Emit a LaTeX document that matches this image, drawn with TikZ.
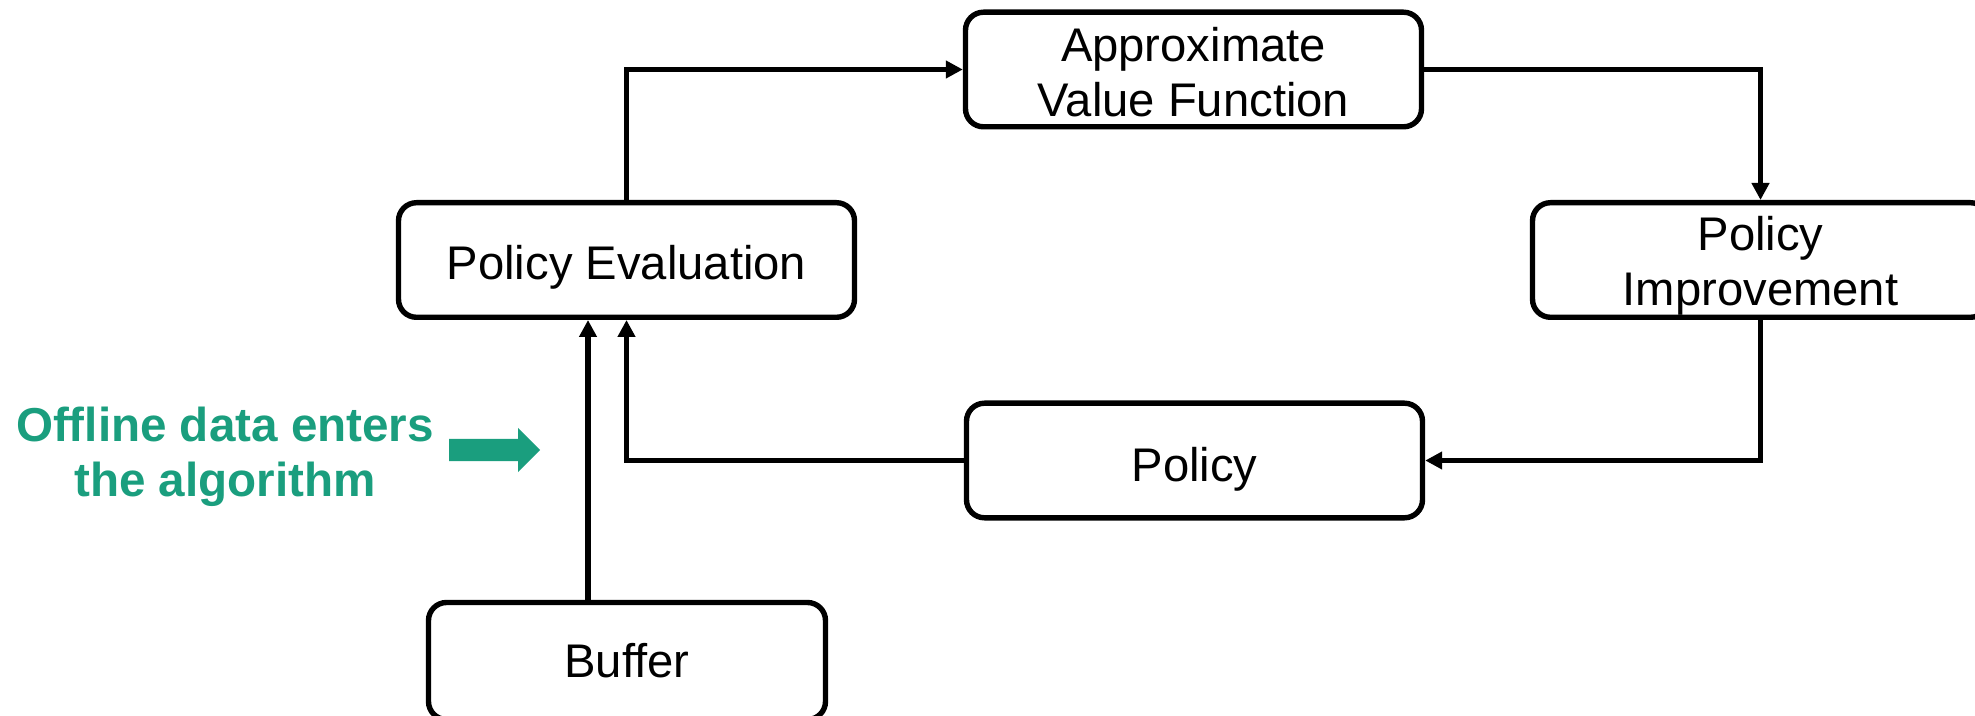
\documentclass[tikz,border=0pt]{standalone}
\usepackage{fontspec}
\setmainfont{Liberation Sans}
\usetikzlibrary{arrows.meta,calc}
\definecolor{offgreen}{RGB}{26,158,126}
\tikzset{
  box/.style={draw=black, line width=2.7pt, rounded corners=9pt, fill=white,
    inner sep=0pt, minimum width=228pt, minimum height=57.3pt},
  boxtext/.style={inner sep=0pt, align=center, font=\fontsize{23.6}{27.5}\selectfont},
  conn/.style={draw=black, line width=2.7pt, -{Triangle[length=8.5pt,width=8.5pt]}},
  note/.style={text=offgreen, align=center, font=\fontsize{23.8}{27.5}\selectfont\bfseries}
}
\begin{document}
\begin{tikzpicture}[x=0.5pt,y=-0.5pt]
\useasboundingbox (0,0) rectangle (1975,716);
\clip (0,0) rectangle (1975,716);
\node[box] (avf) at (1193.5,69.5) {};
\node[box] (pe) at (626.5,260) {};
\node[box] (pi) at (1760.5,260) {};
\node[box] (pol) at (1194.5,460.5) {};
\node[box, minimum width=198.5pt, minimum height=58.5pt] (buf) at (627,661) {};
\node[boxtext] (avft) at ([yshift=-1.5pt]avf.center) {Approximate\\Value Function};
\node[boxtext] (pet) at ([yshift=-3.5pt]pe.center) {Policy Evaluation};
\node[boxtext] (pit) at ([yshift=-3pt]pi.center) {Policy\\Improvement};
\node[boxtext] (polt) at ([yshift=-4.25pt]pol.center) {Policy};
\node[boxtext] (buft) at (buf.center) {Buffer};
\node[note] (txt) at (225,457) {Offline data enters\\the algorithm};
% green block arrow
\fill[offgreen] (449,439) -- (518,439) -- (518,428) -- (540,450) -- (518,472) -- (518,461) -- (449,461) -- cycle;
% connectors
\draw[conn] ([xshift=-19.5pt]buf.north) -- ([xshift=-19.5pt]buf.north |- pe.south);
\draw[conn] (pol.west) -| (pe.south);
\draw[conn] (pe.north) |- (avf.west);
\draw[conn] (avf.east) -| (pi.north);
\draw[conn] (pi.south) |- (pol.east);
\end{tikzpicture}
\end{document}
